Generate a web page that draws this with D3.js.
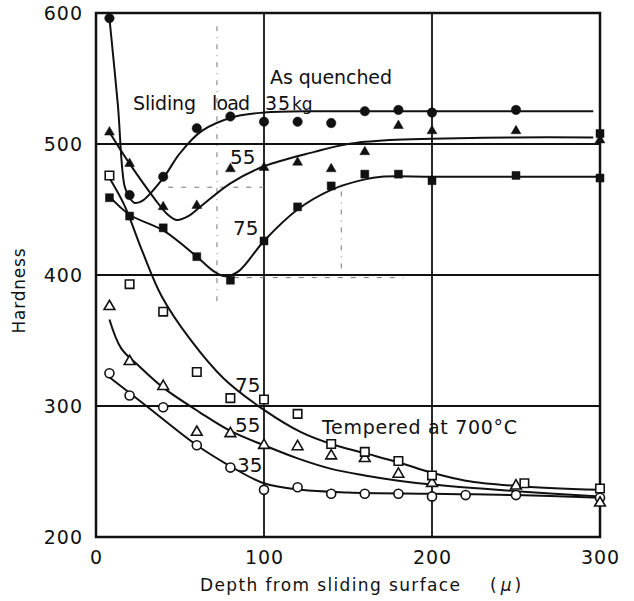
<!DOCTYPE html>
<html>
<head>
<meta charset="utf-8">
<script src="https://cdn.jsdelivr.net/npm/d3@7"></script>
<style>
    body { margin: 0; background: #fff; }
    text { font-family: "DejaVu Sans", sans-serif; fill: #111; }
</style>
</head>
<body>
<div id="chart"></div>
<script>
// axis ticks
var depthTicks = [0, 100, 200, 300];
var hardTicks  = [200, 300, 400, 500, 600];

// As quenched, measured points (filled marks)
var qDepth35 = [8, 20, 40, 60, 80, 100, 120, 140, 160, 180, 200, 250];
var qHard35  = [596, 461, 475, 512, 521, 517, 517, 516, 525, 526, 524, 526];
var qDepth55 = [8, 20, 40, 60, 80, 100, 120, 140, 160, 180, 200, 250, 300];
var qHard55  = [509, 485, 452, 453, 481, 482, 486, 481, 494, 514, 510, 510, 503];
var qDepth75 = [8, 20, 40, 60, 80, 100, 120, 140, 160, 180, 200, 250, 300, 300];
var qHard75  = [459, 445, 436, 414, 396, 426, 452, 468, 477, 477, 472, 476, 474, 508];

// Tempered at 700°C, measured points (open marks)
var tDepth35 = [8, 20, 40, 60, 80, 100, 120, 140, 160, 180, 200, 220, 250, 300];
var tHard35  = [325, 308, 299, 270, 253, 236, 238, 233, 233, 233, 231, 232, 232, 230];
var tDepth55 = [8, 20, 40, 60, 80, 100, 120, 140, 160, 180, 200, 250, 300];
var tHard55  = [376, 334, 315, 280, 279, 270, 269, 262, 260, 248, 241, 239, 226];
var tDepth75 = [8, 20, 40, 60, 80, 100, 120, 140, 160, 180, 200, 255, 300];
var tHard75  = [476, 393, 372, 326, 306, 305, 294, 271, 265, 258, 247, 241, 237];

// hand drawn fitted curves
var qFitX35 = [8, 13, 17, 20, 23, 28, 40, 50, 63, 83, 100, 130, 160, 200, 250, 296];
var qFitY35 = [596, 530, 468, 459, 455, 457, 474, 493, 510, 521, 524, 525, 525, 525, 525, 525];
var qFitX55 = [8, 20, 35, 42, 48, 55, 62, 80, 100, 130, 150, 175, 200, 250, 296];
var qFitY55 = [509, 485, 458, 447, 442, 445, 452, 470, 483, 494, 500, 503, 504, 505, 505];
var qFitX75 = [8, 20, 40, 60, 70, 77, 85, 100, 120, 140, 160, 170, 200, 250, 300];
var qFitY75 = [460, 446, 434, 414, 403, 399, 403, 426, 450, 465, 473, 475, 475, 475, 475];
var tFitX35 = [8, 30, 60, 80, 100, 122, 150, 200, 250, 300];
var tFitY35 = [322, 300, 270, 254, 241, 236, 234, 233, 232, 230];
var tFitX55 = [8, 15, 26, 40, 62, 80, 100, 120, 140, 160, 180, 200, 250, 300];
var tFitY55 = [366, 344, 330, 314, 295, 281, 270, 260, 252, 247, 243, 240, 235, 231];
var tFitX75 = [8, 17, 27, 39, 56, 76, 100, 122, 140, 160, 180, 200, 220, 250, 300];
var tFitY75 = [474, 453, 420, 384, 351, 321, 297, 280, 271, 264, 257, 249, 243, 239, 236];

// faint construction lines left on the drawing
var guideVx  = [72, 146];
var guideVy0 = [380, 405];
var guideVy1 = [590, 470];
var guideHy  = [467, 398];
var guideHx0 = [43, 82];
var guideHx1 = [103, 183];


var HardnessChart = function(input) {
    this.input = input;
    this.draw();
}

HardnessChart.prototype.draw = function() {
    this.svg = d3.select(this.input.div_element)
        .append("svg")
        .attr("width", 634)
        .attr("height", 601);

    this.xScale = d3.scaleLinear().domain([0, 300]).range([96, 600]);
    this.yScale = d3.scaleLinear().domain([200, 600]).range([537, 13]);

    this.addGrid();
    this.addAxes();
    this.addCurves();
    this.addPoints();
    this.addLabels();
}

HardnessChart.prototype.addGrid = function() {
    var x = this.xScale, y = this.yScale;
    var g = this.svg.append("g").attr("class", "grid");

    g.selectAll(".vgrid").data(depthTicks.slice(1, -1)).enter()
      .append("line")
        .attr("x1", d => x(d)).attr("x2", d => x(d))
        .attr("y1", y(200)).attr("y2", y(600))
        .attr("stroke", "#111").attr("stroke-width", 1.8);

    g.selectAll(".hgrid").data(hardTicks.slice(1, -1)).enter()
      .append("line")
        .attr("x1", x(0)).attr("x2", x(300))
        .attr("y1", d => y(d)).attr("y2", d => y(d))
        .attr("stroke", "#111").attr("stroke-width", 1.8);

    // dash-dot guides, barely visible in the scan
    g.selectAll(".gv").data(guideVx).enter()
      .append("line")
        .attr("x1", d => x(d)).attr("x2", d => x(d))
        .attr("y1", (d, i) => y(guideVy0[i])).attr("y2", (d, i) => y(guideVy1[i]))
        .attr("stroke", "#777").attr("stroke-width", 1)
        .attr("stroke-dasharray", "5,6,1,6");

    g.selectAll(".gh").data(guideHy).enter()
      .append("line")
        .attr("x1", (d, i) => x(guideHx0[i])).attr("x2", (d, i) => x(guideHx1[i]))
        .attr("y1", d => y(d)).attr("y2", d => y(d))
        .attr("stroke", "#777").attr("stroke-width", 1)
        .attr("stroke-dasharray", "5,8");

    // frame
    g.append("rect")
        .attr("x", x(0)).attr("y", y(600))
        .attr("width", x(300) - x(0)).attr("height", y(200) - y(600))
        .attr("fill", "none").attr("stroke", "#111").attr("stroke-width", 2.5);
}

HardnessChart.prototype.addAxes = function() {
    var xAxis = d3.axisBottom(this.xScale).tickValues(depthTicks).tickSize(0).tickPadding(14);
    var yAxis = d3.axisLeft(this.yScale).tickValues(hardTicks).tickSize(0).tickPadding(13);

    var gx = this.svg.append("g")
        .attr("class", "x axis")
        .attr("transform", "translate(0," + this.yScale(200) + ")")
        .call(xAxis);
    var gy = this.svg.append("g")
        .attr("class", "y axis")
        .attr("transform", "translate(" + this.xScale(0) + ",0)")
        .call(yAxis);

    [gx, gy].forEach(function(g) {
        g.select(".domain").remove();
        g.selectAll("text")
            .style("font-family", "DejaVu Sans, sans-serif")
            .style("font-size", "19px")
            .style("letter-spacing", "1px")
            .attr("fill", "#111");
    });
}

HardnessChart.prototype.addCurves = function() {
    var x = this.xScale, y = this.yScale;
    var line = d3.line()
        .x(d => x(d[0]))
        .y(d => y(d[1]))
        .curve(d3.curveCatmullRom.alpha(0.5));

    var fits = [
        [qFitX35, qFitY35], [qFitX55, qFitY55], [qFitX75, qFitY75],
        [tFitX35, tFitY35], [tFitX55, tFitY55], [tFitX75, tFitY75]
    ];

    this.svg.append("g").attr("class", "curves")
      .selectAll("path").data(fits).enter()
      .append("path")
        .attr("d", f => line(d3.zip(f[0], f[1])))
        .attr("fill", "none")
        .attr("stroke", "#111")
        .attr("stroke-width", 2);
}

HardnessChart.prototype.addPoints = function() {
    var chart_this = this;

    function addSeries(depth, hard, type, size, filled) {
        var sym = d3.symbol().type(type).size(size);
        chart_this.svg.append("g")
          .selectAll("path").data(d3.zip(depth, hard)).enter()
          .append("path")
            .attr("transform", d => "translate(" + chart_this.xScale(d[0]) + "," + chart_this.yScale(d[1]) + ")")
            .attr("d", sym)
            .attr("fill", filled ? "#111" : "#fff")
            .attr("stroke", "#111")
            .attr("stroke-width", filled ? 0.5 : 1.6);
    }

    addSeries(qDepth35, qHard35, d3.symbolCircle, 70, true);
    addSeries(qDepth55, qHard55, d3.symbolTriangle, 42, true);
    addSeries(qDepth75, qHard75, d3.symbolSquare, 64, true);
    addSeries(tDepth35, tHard35, d3.symbolCircle, 64, false);
    addSeries(tDepth55, tHard55, d3.symbolTriangle, 50, false);
    addSeries(tDepth75, tHard75, d3.symbolSquare, 72, false);
}

HardnessChart.prototype.addLabels = function() {
    var s = this.svg;

    function label(txt, x, y, size, len) {
        var t = s.append("text")
            .attr("x", x).attr("y", y)
            .style("font-size", size + "px")
            .text(txt);
        if (len) t.attr("textLength", len).attr("lengthAdjust", "spacing");
        return t;
    }

    label("As quenched", 270, 84, 19, 122);
    label("Sliding", 133, 110, 19, 63);
    label("load", 212, 110, 19, 38);
    label("35", 265, 110, 19, 25);
    label("kg", 292, 110, 17);
    label("55", 230, 164, 20);
    label("75", 233, 235, 20);

    label("Tempered at 700°C", 322, 434, 19, 195);
    label("75", 235, 392, 20);
    label("55", 235, 432, 20);
    label("35", 237, 472, 20);

    // axis titles
    label("Depth from sliding surface", 200, 591, 17, 260);
    var mu = label("(", 490, 591, 17);
    mu.append("tspan").attr("dx", 4).style("font-style", "italic").text("μ");
    mu.append("tspan").attr("dx", 3).text(")");

    s.append("text")
        .attr("transform", "translate(25,291) rotate(-90)")
        .attr("text-anchor", "middle")
        .style("font-size", "17px")
        .attr("textLength", 85)
        .attr("lengthAdjust", "spacing")
        .text("Hardness");
}

new HardnessChart({ div_element: "#chart" });
</script>
</body>
</html>
